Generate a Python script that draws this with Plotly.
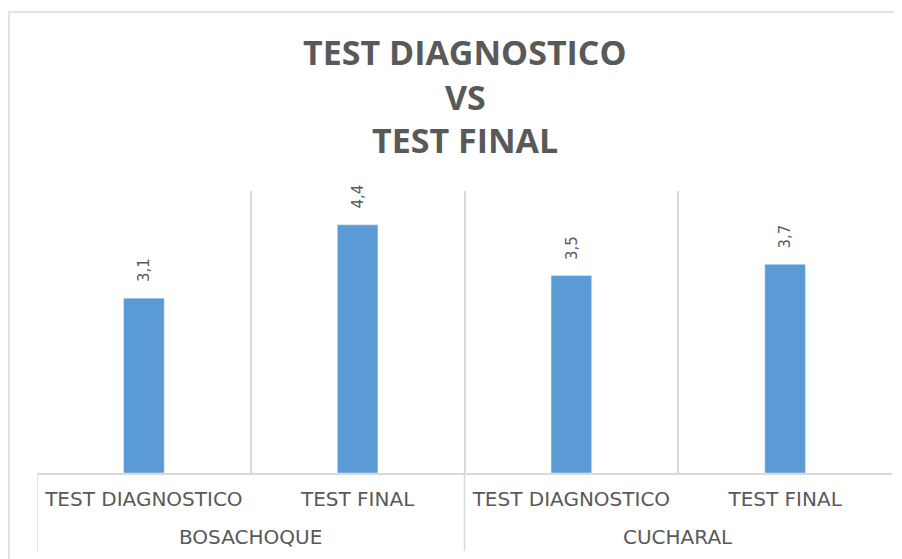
import plotly.graph_objects as go

groups = ["BOSACHOQUE", "CUCHARAL"]
tests = ["TEST DIAGNOSTICO", "TEST FINAL", "TEST DIAGNOSTICO", "TEST FINAL"]
values = [3.1, 4.4, 3.5, 3.7]
title_lines = ["TEST DIAGNOSTICO", "VS", "TEST FINAL"]

labels = [f"{v:.1f}".replace(".", ",") for v in values]
xpos = list(range(len(values)))

GRAY = "#595959"
LINE = "#d9d9d9"
FONT = "DejaVu Sans"

# reference-pixel helpers (plot area: x 37..892, y 191..473)
def px(x):
    return (x - 37) / 855

def py(y):
    return (473 - y) / 282

fig = go.Figure(go.Bar(
    x=xpos, y=values,
    marker_color="#5B9BD5", width=0.19,
    hoverinfo="skip",
))

# data labels (rotated)
for xi, v, lab in zip(xpos, values, labels):
    fig.add_annotation(
        x=xi, y=v, xref="x", yref="y", text=lab, showarrow=False,
        textangle=-90, xanchor="center", yanchor="bottom", yshift=14,
        font=dict(size=15, color=GRAY, family=FONT),
    )

# title lines
for t, yy in zip(title_lines, [52, 97, 140]):
    fig.add_annotation(
        text=f"<b>{t}</b>", xref="paper", yref="paper",
        x=px(465), y=py(yy), showarrow=False,
        xanchor="center", yanchor="middle",
        font=dict(size=34, color=GRAY, family="Open Sans"),
    )

# group labels (second level of the category axis)
for gi, g in enumerate(groups):
    fig.add_annotation(
        text=g, xref="x", yref="paper", x=2 * gi + 0.5, y=py(537),
        showarrow=False, xanchor="center", yanchor="middle",
        font=dict(size=20, color=GRAY, family=FONT),
    )

# group dividers below axis
for xb in [-0.5, 1.5]:
    fig.add_shape(type="line", xref="x", yref="paper", x0=xb, x1=xb,
                  y0=0, y1=py(551), line=dict(color=LINE, width=1.5))

# chart border
fig.add_shape(type="rect", xref="paper", yref="paper",
              x0=px(9), x1=px(920), y0=py(620), y1=py(12),
              line=dict(color=LINE, width=1.5), layer="below")

fig.update_layout(
    width=902, height=559,
    margin=dict(l=29, r=18, t=183, b=94),
    paper_bgcolor="white", plot_bgcolor="white",
    showlegend=False,
    font=dict(family=FONT, color=GRAY),
    xaxis=dict(
        range=[-0.5, 3.5], tickmode="array", tickvals=xpos, ticktext=tests,
        showgrid=False, zeroline=False, ticks="",
        showline=True, linecolor=LINE, linewidth=1.5,
        tickfont=dict(size=20, color=GRAY, family=FONT),
        ticklabelstandoff=7,
        minor=dict(tickmode="array", tickvals=[-0.5, 0.5, 1.5, 2.5, 3.5],
                   showgrid=True, gridcolor=LINE, gridwidth=1.5, ticks=""),
    ),
    yaxis=dict(range=[0, 5], visible=False, showgrid=False, zeroline=False),
)

fig.write_html("out.html")
